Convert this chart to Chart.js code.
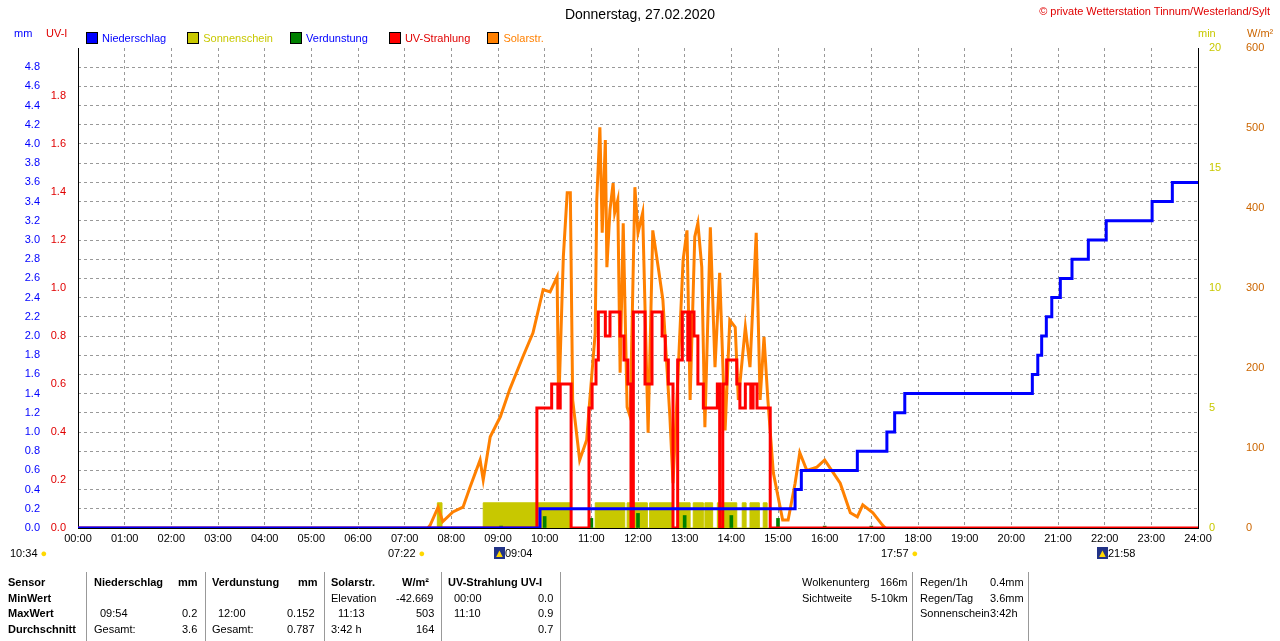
<!DOCTYPE html>
<html>
<head>
<meta charset="utf-8">
<script src="https://cdn.jsdelivr.net/npm/chart.js@4"></script>
<style>
  body { margin: 0; background: #fff; font-family: "Liberation Sans", Arial, sans-serif; font-size: 11px; }
  #wrap { position: relative; width: 1280px; height: 641px; overflow: hidden; }
  canvas { position: absolute; left: 0; top: 0; }
  .t { position: absolute; white-space: nowrap; }
  .sq { display: inline-block; width: 10px; height: 10px; border: 1px solid #000; margin-right: 4px; vertical-align: -2px; }
  .b { font-weight: bold; }
  .vl { position: absolute; width: 1px; background: #999; }
</style>
</head>
<body>
<div id="wrap">
  <canvas id="chart" width="1280" height="641"></canvas>
  <div class="t" style="left:0;width:1280px;top:6px;text-align:center;font-size:14px;">Donnerstag, 27.02.2020</div>
  <div class="t" style="right:10px;top:5px;color:#e00000;">© private Wetterstation Tinnum/Westerland/Sylt</div>
  <div class="t" style="left:14px;top:27px;color:#0000ff;">mm</div>
  <div class="t" style="left:46px;top:27px;color:#e00000;">UV-I</div>
  <div class="t" style="left:1198px;top:27px;color:#c8c800;">min</div>
  <div class="t" style="left:1247px;top:27px;color:#cc6600;">W/m²</div>
  <div class="t" style="left:86px;top:32px;">
    <span class="sq" style="background:#0000ff"></span><span style="color:#0000ff;margin-right:18px">Niederschlag</span>
    <span class="sq" style="background:#c8c800"></span><span style="color:#c8c800;margin-right:14px">Sonnenschein</span>
    <span class="sq" style="background:#008000"></span><span style="color:#0000ff;margin-right:18px">Verdunstung</span>
    <span class="sq" style="background:#ff0000"></span><span style="color:#e00000;margin-right:14px">UV-Strahlung</span>
    <span class="sq" style="background:#ff8000"></span><span style="color:#ff8000">Solarstr.</span>
  </div>
  <div class="t" style="left:10px;top:547px;">10:34 <span style="color:#ffd800">●</span></div>
  <div class="t" style="left:388px;top:547px;">07:22 <span style="color:#ffd800">●</span></div>
  <div class="t" style="left:494px;top:547px;"><span style="background:#223388;color:#ffd800">▲</span>09:04</div>
  <div class="t" style="left:881px;top:547px;">17:57 <span style="color:#ffd800">●</span></div>
  <div class="t" style="left:1097px;top:547px;"><span style="background:#223388;color:#ffd800">▲</span>21:58</div>

  <div class="t b" style="left:8px;top:576px;">Sensor</div>
  <div class="t b" style="left:8px;top:592px;">MinWert</div>
  <div class="t b" style="left:8px;top:607px;">MaxWert</div>
  <div class="t b" style="left:8px;top:623px;">Durchschnitt</div>
  <div class="vl" style="left:86px;top:572px;height:69px"></div>
  <div class="t b" style="left:94px;top:576px;">Niederschlag</div>
  <div class="t b" style="left:178px;top:576px;">mm</div>
  <div class="t" style="left:100px;top:607px;">09:54</div><div class="t" style="left:182px;top:607px;">0.2</div>
  <div class="t" style="left:94px;top:623px;">Gesamt:</div><div class="t" style="left:182px;top:623px;">3.6</div>
  <div class="vl" style="left:205px;top:572px;height:69px"></div>
  <div class="t b" style="left:212px;top:576px;">Verdunstung</div>
  <div class="t b" style="left:298px;top:576px;">mm</div>
  <div class="t" style="left:218px;top:607px;">12:00</div><div class="t" style="left:287px;top:607px;">0.152</div>
  <div class="t" style="left:212px;top:623px;">Gesamt:</div><div class="t" style="left:287px;top:623px;">0.787</div>
  <div class="vl" style="left:324px;top:572px;height:69px"></div>
  <div class="t b" style="left:331px;top:576px;">Solarstr.</div>
  <div class="t b" style="left:402px;top:576px;">W/m²</div>
  <div class="t" style="left:331px;top:592px;">Elevation</div><div class="t" style="left:396px;top:592px;">-42.669</div>
  <div class="t" style="left:338px;top:607px;">11:13</div><div class="t" style="left:416px;top:607px;">503</div>
  <div class="t" style="left:331px;top:623px;">3:42 h</div><div class="t" style="left:416px;top:623px;">164</div>
  <div class="vl" style="left:441px;top:572px;height:69px"></div>
  <div class="t b" style="left:448px;top:576px;">UV-Strahlung UV-I</div>
  <div class="t" style="left:454px;top:592px;">00:00</div><div class="t" style="left:538px;top:592px;">0.0</div>
  <div class="t" style="left:454px;top:607px;">11:10</div><div class="t" style="left:538px;top:607px;">0.9</div>
  <div class="t" style="left:538px;top:623px;">0.7</div>
  <div class="vl" style="left:560px;top:572px;height:69px"></div>

  <div class="t" style="left:802px;top:576px;">Wolkenunterg</div><div class="t" style="left:880px;top:576px;">166m</div>
  <div class="t" style="left:802px;top:592px;">Sichtweite</div><div class="t" style="left:871px;top:592px;">5-10km</div>
  <div class="vl" style="left:912px;top:572px;height:69px"></div>
  <div class="t" style="left:920px;top:576px;">Regen/1h</div><div class="t" style="left:990px;top:576px;">0.4mm</div>
  <div class="t" style="left:920px;top:592px;">Regen/Tag</div><div class="t" style="left:990px;top:592px;">3.6mm</div>
  <div class="t" style="left:920px;top:607px;">Sonnenschein</div><div class="t" style="left:990px;top:607px;">3:42h</div>
  <div class="vl" style="left:1028px;top:572px;height:69px"></div>
</div>
<script>
// --- data ---
const hourLabels = ["00:00","01:00","02:00","03:00","04:00","05:00","06:00","07:00","08:00","09:00","10:00","11:00","12:00",
  "13:00","14:00","15:00","16:00","17:00","18:00","19:00","20:00","21:00","22:00","23:00","24:00"];

const solarTimes = ["07:30","07:33","07:43","07:49","08:02","08:15","08:24","08:37","08:41","08:50","09:03","09:15","09:32","09:45","09:58",
  "10:07","10:16","10:18","10:24","10:29","10:33","10:36","10:45","10:54","10:58","11:05","11:07","11:11","11:14","11:18","11:20",
  "11:24","11:28","11:30","11:34","11:37","11:41","11:46","11:50","11:56","12:00","12:06","12:13","12:19","12:26","12:32","12:41",
  "12:45","12:50","12:58","13:03","13:07","13:13","13:17","13:22","13:26","13:33","13:39","13:45","13:52","13:58","14:05","14:09",
  "14:18","14:24","14:32","14:37","14:42","14:47","14:54","15:06","15:13","15:22","15:28","15:37","15:50","16:00","16:09","16:20",
  "16:33","16:42","16:49","17:02","17:14","17:18"];
const solarValues = [0,4,26,8,20,26,51,85,60,114,139,173,214,244,298,
  295,314,151,339,419,419,160,85,110,160,244,410,501,369,485,326,
  398,431,394,410,194,381,151,139,426,369,394,119,372,326,285,139,
  56,160,335,372,160,364,381,326,126,376,201,319,122,260,251,160,
  251,201,369,160,239,160,69,10,10,56,94,72,76,85,72,56,
  19,14,29,19,4,0];

const uvTimes = ["00:00","09:50","10:09","10:17","10:20","10:34","10:57","11:01","11:06","11:09","11:18","11:24","11:37","11:42","11:47",
  "11:51","11:54","12:09","12:18","12:31","12:35","12:39","12:41","12:45","12:51","12:57","13:04","13:07","13:12","13:17","13:21",
  "13:24","13:30","13:42","13:45","13:49","13:54","13:58","14:07","14:11","14:18","14:25","14:28","14:33","14:50","24:00"];
const uvValues = [0,0.5,0.6,0.5,0.6,0,0.5,0.6,0.7,0.9,0.8,0.9,0.8,0.7,0.6,
  0,0.9,0.6,0.9,0.8,0.7,0.6,0.6,0,0.7,0.9,0.7,0.9,0.8,0.6,0.6,
  0.5,0.5,0.6,0,0.6,0.7,0.7,0.6,0.5,0.6,0.5,0.6,0.5,0,0];

const rainTimes = ["00:00","09:54","15:22","15:30","16:42","17:20","17:30","17:43","20:27","20:34","20:39","20:45","20:52",
  "21:03","21:18","21:39","22:02","23:01","23:27","24:00"];
const rainValues = [0,0.2,0.4,0.6,0.8,1.0,1.2,1.4,1.6,1.8,2.0,2.2,2.4,2.6,2.8,3.0,3.2,3.4,3.6,3.6];

const sunStarts = ["07:42","08:41","11:05","11:46","12:15","12:51","13:11","13:26","13:42","14:14","14:24","14:41"];
const sunEnds   = ["07:48","10:33","11:43","12:12","12:44","13:07","13:24","13:36","14:07","14:19","14:36","14:46"];
const sunMinutes = [1.05,1.05,1.05,1.05,1.05,1.05,1.05,1.05,1.05,1.05,1.05,1.05];

const evapTimes = ["09:04","10:00","11:00","12:00","13:00","14:00","15:00","16:00","17:00"];
const evapValues = [0.02,0.12,0.1,0.152,0.13,0.13,0.1,0.02,0.02];

// --- helpers ---
const toH = s => { const [h, m] = s.split(":").map(Number); return h + m / 60; };
const pts = (ts, vs) => ts.map((t, i) => ({ x: toH(t), y: vs[i] }));

const sunPts = [{ x: 0, y: 0 }];
sunStarts.forEach((s, i) => {
  sunPts.push({ x: toH(s), y: sunMinutes[i] });
  sunPts.push({ x: toH(sunEnds[i]), y: 0 });
});
sunPts.push({ x: 24, y: 0 });

const font = { family: "'Liberation Sans', Arial, sans-serif", size: 11 };
const dashGrid = { color: "#999", drawTicks: false };

new Chart(document.getElementById("chart"), {
  data: {
    datasets: [
      { type: "line", label: "Niederschlag", data: pts(rainTimes, rainValues), yAxisID: "mm", stepped: true,
        borderColor: "#0000ff", borderWidth: 3, pointRadius: 0, order: 0 },
      { type: "line", label: "UV-Strahlung", data: pts(uvTimes, uvValues), yAxisID: "uv", stepped: true,
        borderColor: "#ff0000", borderWidth: 3, pointRadius: 0, order: 1 },
      { type: "bar", label: "Verdunstung", data: pts(evapTimes, evapValues), yAxisID: "mm",
        backgroundColor: "#008000", barThickness: 3, order: 2 },
      { type: "line", label: "Solarstr.", data: pts(solarTimes, solarValues), yAxisID: "w",
        borderColor: "#ff8000", borderWidth: 3, pointRadius: 0, tension: 0, order: 3 },
      { type: "line", label: "Sonnenschein", data: sunPts, yAxisID: "min", stepped: true,
        borderColor: "#c8c800", borderWidth: 1, backgroundColor: "#c8c800", fill: "origin", pointRadius: 0, order: 4 },
    ],
  },
  options: {
    responsive: false,
    animation: false,
    layout: { padding: { top: 48, bottom: 93, left: 0, right: 0 } },
    plugins: { legend: { display: false }, tooltip: { enabled: false } },
    scales: {
      x: {
        type: "linear", min: 0, max: 24, offset: false,
        afterBuildTicks: s => { s.ticks = hourLabels.map((l, i) => ({ value: i })); },
        afterFit: s => { s.height = 20; },
        ticks: { color: "#000", font, padding: 4, maxRotation: 0, callback: (v, i) => hourLabels[i] },
        grid: { ...dashGrid, offset: false }, border: { color: "#000", dash: [3, 3] },
      },
      mm: {
        position: "left", min: 0, max: 5, weight: 2,
        afterBuildTicks: s => { s.ticks = s.ticks.filter(t => t.value <= 4.81); },
        afterFit: s => { s.width = 46; },
        ticks: { stepSize: 0.2, color: "#0000ff", font, padding: 6, callback: v => v.toFixed(1) },
        grid: dashGrid, border: { display: false, dash: [3, 3] },
      },
      uv: {
        position: "left", min: 0, max: 2, weight: 1,
        afterBuildTicks: s => { s.ticks = s.ticks.filter(t => t.value <= 1.81); },
        afterFit: s => { s.width = 32; },
        ticks: { stepSize: 0.2, color: "#e00000", font, padding: 4, callback: v => v.toFixed(1) },
        grid: { display: false }, border: { color: "#000" },
      },
      min: {
        position: "right", min: 0, max: 20, weight: 1,
        afterFit: s => { s.width = 30; },
        ticks: { stepSize: 5, color: "#c8c800", font, padding: 3 },
        grid: { display: false }, border: { color: "#000" },
      },
      w: {
        position: "right", min: 0, max: 600, weight: 2,
        afterFit: s => { s.width = 52; },
        ticks: { stepSize: 100, color: "#cc6600", font, padding: 10 },
        grid: { display: false }, border: { display: false },
      },
    },
  },
});
</script>
</body>
</html>
